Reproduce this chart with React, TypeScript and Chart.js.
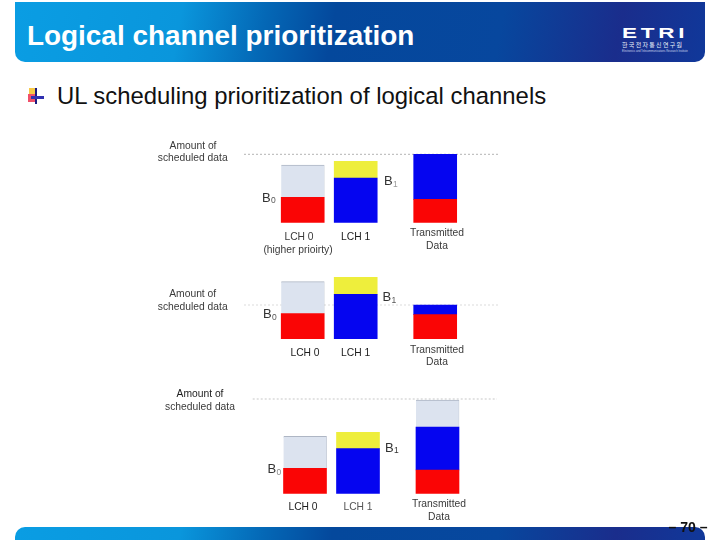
import React, { useEffect, useRef } from "react";
import { Chart, registerables } from "chart.js";

Chart.register(...registerables);

const FONT = '"Liberation Sans", Arial, sans-serif';

// where the three columns sit along each x axis
const columnSlots = [1, 2, 3.5];

// column heights per panel, one list per colour (LCH 0, LCH 1, transmitted)
const redA = [25.4, null, 23.4];
const blueA = [null, 44.7, 45];
const greyA = [32.3, null, null];
const yellowA = [null, 16.7, null];

const redB = [25.3, null, 24.3];
const blueB = [null, 44.7, 9.7];
const greyB = [32, null, null];
const yellowB = [null, 17, null];

const redC = [25.4, null, 23.7];
const blueC = [null, 45, 43];
const greyC = [32, null, 27];
const yellowC = [null, 16.4, null];

const scheduledA = 68.4;
const scheduledB = 34;
const scheduledC = 94.7;

const yTitle = ["Amount of", "scheduled data"];
const transmitted = ["Transmitted", "Data"];

type Label = { text: string; x: number; y: number; size?: number; color?: string };
type Sub = { name: string; x: number; y: number; subColor?: string };

type PanelProps = {
  red: (number | null)[];
  blue: (number | null)[];
  grey: (number | null)[];
  yellow: (number | null)[];
  scheduled: number;
  lineColor: string;
  left: number;
  right: number;
  base: number;
  xMin: number;
  xMax: number;
  labels: Label[];
  subs: Sub[];
};

const Panel = (p: PanelProps) => {
  const ref = useRef<HTMLCanvasElement>(null);

  useEffect(() => {
    if (!ref.current) return;

    const toPoints = (vals: (number | null)[]) => vals.map((v, i) => ({ x: columnSlots[i], y: v }));

    const decor = {
      id: "decor",
      beforeDatasetsDraw(chart: any) {
        const { ctx, chartArea, scales } = chart;
        const y = scales.y.getPixelForValue(p.scheduled);
        ctx.save();
        ctx.strokeStyle = p.lineColor;
        ctx.lineWidth = 1;
        ctx.setLineDash([2, 2]);
        ctx.beginPath();
        ctx.moveTo(chartArea.left, y);
        ctx.lineTo(chartArea.right, y);
        ctx.stroke();
        ctx.restore();
      },
      afterDraw(chart: any) {
        const { ctx } = chart;
        ctx.save();
        ctx.textAlign = "center";
        ctx.textBaseline = "middle";
        p.labels.forEach((l) => {
          ctx.font = `${l.size || 10.3}px ${FONT}`;
          ctx.fillStyle = l.color || "#3a3a3a";
          ctx.fillText(l.text, l.x, l.y);
        });
        ctx.textAlign = "left";
        p.subs.forEach((s) => {
          ctx.font = `13px ${FONT}`;
          ctx.fillStyle = "#333333";
          ctx.fillText("B", s.x, s.y);
          ctx.font = `8.5px ${FONT}`;
          ctx.fillStyle = s.subColor || "#555555";
          ctx.fillText(s.name, s.x + 9, s.y + 3);
        });
        ctx.restore();
      },
    };

    const chart = new Chart(ref.current, {
      type: "bar",
      data: {
        datasets: [
          { label: "red", data: toPoints(p.red), backgroundColor: "#fa0505" },
          { label: "blue", data: toPoints(p.blue), backgroundColor: "#0505f0" },
          {
            label: "grey",
            data: toPoints(p.grey),
            backgroundColor: "#dce3ef",
            borderColor: "#aeb6c4",
            borderWidth: { top: 1, right: 0.5, left: 0, bottom: 0 },
          },
          { label: "yellow", data: toPoints(p.yellow), backgroundColor: "#eeee3c" },
        ] as any,
      },
      options: {
        animation: false,
        responsive: false,
        layout: {
          padding: { left: p.left, right: 720 - p.right, top: p.base - 100, bottom: 540 - p.base },
        },
        datasets: { bar: { barThickness: 43 } },
        plugins: { legend: { display: false }, tooltip: { enabled: false } },
        scales: {
          x: { type: "linear", stacked: true, offset: false, min: p.xMin, max: p.xMax, display: false },
          y: { stacked: true, min: 0, max: 100, display: false },
        },
      },
      plugins: [decor],
    });

    return () => {
      chart.destroy();
    };
  }, []);

  return (
    <canvas
      ref={ref}
      width={720}
      height={540}
      style={{ position: "absolute", left: 0, top: 0, width: 720, height: 540 }}
    />
  );
};

const bandGradient =
  "linear-gradient(100deg, #0a9de3 0%, #0a96dc 24%, #0468b6 36%, #04489c 46%, #07479e 70%, #1a2d8c 87%, #10389a 100%)";

const App = () => {
  return (
    <div
      style={{
        position: "fixed",
        left: 0,
        top: 0,
        width: 720,
        height: 540,
        overflow: "hidden",
        background: "#ffffff",
        fontFamily: FONT,
      }}
    >
      <div
        style={{
          position: "absolute",
          left: 15,
          top: 2,
          width: 690,
          height: 60,
          background: bandGradient,
          borderRadius: "0 0 10px 10px",
        }}
      />
      <div
        style={{
          position: "absolute",
          left: 27,
          top: 20,
          color: "#ffffff",
          fontWeight: "bold",
          fontSize: 27.9,
          lineHeight: "32px",
          whiteSpace: "nowrap",
        }}
      >
        Logical channel prioritization
      </div>

      <div
        style={{
          position: "absolute",
          left: 622,
          top: 25,
          color: "#ffffff",
          fontWeight: "bold",
          fontSize: 15,
          lineHeight: "16px",
          letterSpacing: 2.5,
          transformOrigin: "left center",
          transform: "scaleX(1.5)",
          whiteSpace: "nowrap",
        }}
      >
        ETRI
      </div>
      <div
        style={{
          position: "absolute",
          left: 622,
          top: 41,
          color: "#e8eef8",
          fontSize: 6,
          lineHeight: "8px",
          letterSpacing: 1.3,
          fontFamily: '"Noto Sans CJK KR", sans-serif',
          whiteSpace: "nowrap",
        }}
      >
        한국전자통신연구원
      </div>
      <div
        style={{
          position: "absolute",
          left: 622,
          top: 50,
          color: "#c8d4ea",
          fontSize: 2.7,
          lineHeight: "4px",
          whiteSpace: "nowrap",
        }}
      >
        Electronics and Telecommunications Research Institute
      </div>

      <div style={{ position: "absolute", left: 29, top: 88, width: 7, height: 13, background: "#f7c948" }} />
      <div style={{ position: "absolute", left: 28, top: 94, width: 8, height: 8, background: "#f0506a" }} />
      <div style={{ position: "absolute", left: 35, top: 88, width: 2, height: 16, background: "#1a1a80" }} />
      <div style={{ position: "absolute", left: 31, top: 96, width: 13, height: 3, background: "#3030b0" }} />

      <div
        style={{
          position: "absolute",
          left: 57,
          top: 81,
          color: "#111111",
          fontSize: 23.9,
          lineHeight: "30px",
          whiteSpace: "nowrap",
        }}
      >
        UL scheduling prioritization of logical channels
      </div>

      <Panel
        red={redA}
        blue={blueA}
        grey={greyA}
        yellow={yellowA}
        scheduled={scheduledA}
        lineColor="#b4b4b4"
        left={244}
        right={498}
        base={222.7}
        xMin={-0.108}
        xMax={4.685}
        labels={[
          { text: yTitle[0], x: 193, y: 145.7 },
          { text: yTitle[1], x: 192.7, y: 158 },
          { text: "LCH 0", x: 299, y: 237.5 },
          { text: "(higher prioirty)", x: 298, y: 250.5 },
          { text: "LCH 1", x: 355.7, y: 237.5, color: "#1c1c1c" },
          { text: transmitted[0], x: 437, y: 233 },
          { text: transmitted[1], x: 437, y: 246.5 },
        ]}
        subs={[
          { name: "0", x: 262, y: 198 },
          { name: "1", x: 384, y: 181.5, subColor: "#999999" },
        ]}
      />
      <Panel
        red={redB}
        blue={blueB}
        grey={greyB}
        yellow={yellowB}
        scheduled={scheduledB}
        lineColor="#dcdcdc"
        left={244}
        right={498}
        base={339}
        xMin={-0.108}
        xMax={4.685}
        labels={[
          { text: yTitle[0], x: 192.7, y: 294.3 },
          { text: yTitle[1], x: 192.7, y: 307.3 },
          { text: "LCH 0", x: 305, y: 353.5, color: "#1c1c1c" },
          { text: "LCH 1", x: 355.7, y: 353, color: "#1c1c1c" },
          { text: transmitted[0], x: 437, y: 350 },
          { text: transmitted[1], x: 437, y: 362 },
        ]}
        subs={[
          { name: "0", x: 263, y: 314.5 },
          { name: "1", x: 382.5, y: 297.5 },
        ]}
      />
      <Panel
        red={redC}
        blue={blueC}
        grey={greyC}
        yellow={yellowC}
        scheduled={scheduledC}
        lineColor="#c8c8c8"
        left={252.7}
        right={497}
        base={493.7}
        xMin={0.013}
        xMax={4.623}
        labels={[
          { text: yTitle[0], x: 200, y: 394.5, color: "#1c1c1c" },
          { text: yTitle[1], x: 200, y: 407.5 },
          { text: "LCH 0", x: 303, y: 507, color: "#1c1c1c" },
          { text: "LCH 1", x: 358, y: 507, color: "#555555" },
          { text: transmitted[0], x: 439, y: 504.5 },
          { text: transmitted[1], x: 439, y: 517 },
        ]}
        subs={[
          { name: "0", x: 267.5, y: 469.5, subColor: "#888888" },
          { name: "1", x: 385, y: 448, subColor: "#333333" },
        ]}
      />

      <div
        style={{
          position: "absolute",
          left: 15,
          top: 527,
          width: 690,
          height: 13,
          background: bandGradient,
          borderRadius: "10px 10px 0 0",
        }}
      />
      <div
        style={{
          position: "absolute",
          left: 660,
          top: 519,
          width: 56,
          textAlign: "center",
          color: "#111111",
          fontWeight: "bold",
          fontSize: 14,
          lineHeight: "16px",
          whiteSpace: "nowrap",
        }}
      >
        – 70 –
      </div>
    </div>
  );
};

export default App;
